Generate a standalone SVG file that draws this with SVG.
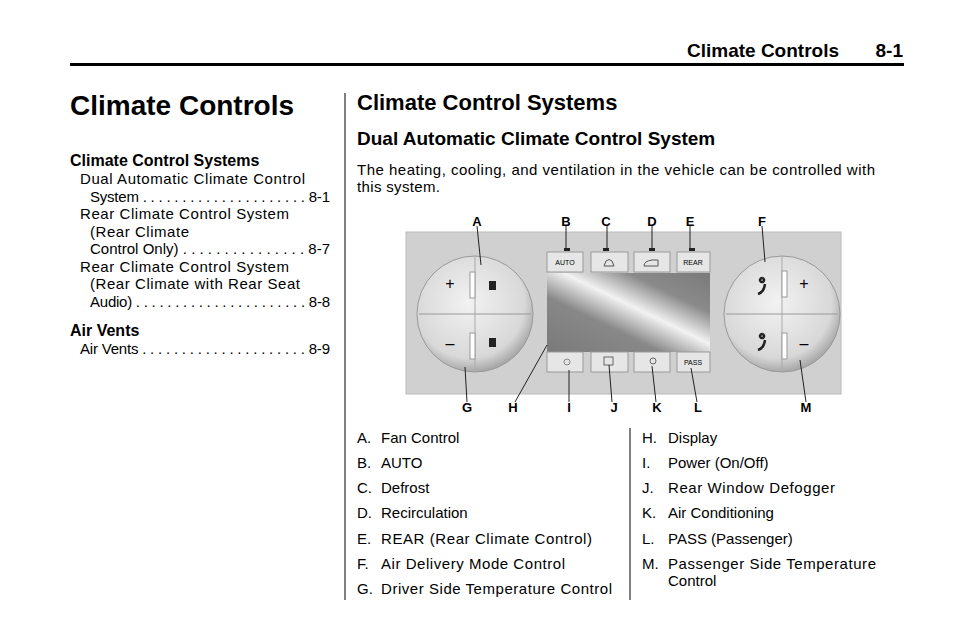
<svg xmlns="http://www.w3.org/2000/svg" width="954" height="638" viewBox="0 0 954 638">
<defs>
<style>
text{font-family:"Liberation Sans",Arial,sans-serif;fill:#000}
.b{font-weight:bold}
.s{font-size:15px}
.lb{font-size:13px;font-weight:bold}
.btn{fill:#e6e6e6;stroke:#999;stroke-width:1}
.bt{font-size:7px;text-anchor:middle}
.ld{stroke:#222;stroke-width:1;fill:none}
</style>
<radialGradient id="kn" cx="0.45" cy="0.4" r="0.6"><stop offset="0" stop-color="#f2f2f2"/><stop offset="0.8" stop-color="#d8d8d8"/><stop offset="1" stop-color="#a8a8a8"/></radialGradient>
<linearGradient id="sc" x1="0" y1="1" x2="1" y2="0"><stop offset="0" stop-color="#7a7a7a"/><stop offset="0.35" stop-color="#888"/><stop offset="0.55" stop-color="#f2f2f2"/><stop offset="0.75" stop-color="#8a8a8a"/><stop offset="1" stop-color="#7a7a7a"/></linearGradient>
</defs>
<rect width="954" height="638" fill="#fff"/>
<text x="839" y="57" class="b" font-size="19" text-anchor="end">Climate Controls</text>
<text x="903" y="57" class="b" font-size="19" text-anchor="end">8-1</text>
<rect x="70" y="63" width="834" height="3" fill="#000"/>
<text x="70" y="115" class="b" font-size="28">Climate Controls</text>
<text x="70" y="166" class="b" font-size="16">Climate Control Systems</text>
<g class="s">
<text x="80" y="184" textLength="225" lengthAdjust="spacing">Dual Automatic Climate Control</text>
<text x="90" y="202" textLength="240" lengthAdjust="spacing">System . . . . . . . . . . . . . . . . . . . . . 8-1</text>
<text x="80" y="219" textLength="209" lengthAdjust="spacing">Rear Climate Control System</text>
<text x="90" y="237" textLength="99" lengthAdjust="spacing">(Rear Climate</text>
<text x="90" y="254" textLength="240" lengthAdjust="spacing">Control Only) . . . . . . . . . . . . . . . 8-7</text>
<text x="80" y="272" textLength="209" lengthAdjust="spacing">Rear Climate Control System</text>
<text x="90" y="289" textLength="210" lengthAdjust="spacing">(Rear Climate with Rear Seat</text>
<text x="90" y="307" textLength="240" lengthAdjust="spacing">Audio) . . . . . . . . . . . . . . . . . . . . . . 8-8</text>
</g>
<text x="70" y="336" class="b" font-size="16">Air Vents</text>
<text x="80" y="354" class="s" textLength="250" lengthAdjust="spacing">Air Vents . . . . . . . . . . . . . . . . . . . . . 8-9</text>
<line x1="345" y1="93" x2="345" y2="600" stroke="#000" stroke-width="1"/>
<text x="357" y="110" class="b" font-size="22">Climate Control Systems</text>
<text x="357" y="145" class="b" font-size="19">Dual Automatic Climate Control System</text>
<text x="357" y="175" class="s" textLength="518" lengthAdjust="spacing">The heating, cooling, and ventilation in the vehicle can be controlled with</text>
<text x="357" y="192" class="s" textLength="83" lengthAdjust="spacing">this system.</text>
<g id="panel">
<rect x="406" y="232" width="435" height="162" fill="#d0d0d0" stroke="#bbb"/>
<circle cx="475" cy="314" r="58" fill="url(#kn)" stroke="#999"/>
<line x1="419" y1="314" x2="531" y2="314" stroke="#999"/>
<line x1="475" y1="256" x2="475" y2="372" stroke="#aaa"/>
<rect x="470" y="272" width="5" height="26" fill="#fff" stroke="#999"/>
<rect x="470" y="333" width="5" height="26" fill="#fff" stroke="#999"/>
<text x="450" y="289" font-size="16" fill="#666" text-anchor="middle">+</text>
<text x="450" y="349" font-size="16" fill="#666" text-anchor="middle">–</text>
<rect x="489" y="281" width="7" height="9" fill="#222"/>
<rect x="489" y="338" width="7" height="9" fill="#222"/>
<circle cx="782" cy="314" r="58" fill="url(#kn)" stroke="#999"/>
<line x1="726" y1="314" x2="838" y2="314" stroke="#999"/>
<line x1="782" y1="256" x2="782" y2="372" stroke="#aaa"/>
<rect x="782" y="271" width="5" height="26" fill="#fff" stroke="#999"/>
<rect x="782" y="333" width="5" height="26" fill="#fff" stroke="#999"/>
<text x="804" y="289" font-size="16" fill="#666" text-anchor="middle">+</text>
<text x="804" y="349" font-size="16" fill="#666" text-anchor="middle">–</text>
<path d="M758 294 q6 -2 7 -10 M762 278 a2 2 0 1 0 0.1 0" stroke="#222" stroke-width="2.5" fill="none"/>
<path d="M758 350 q6 -2 7 -10 M762 334 a2 2 0 1 0 0.1 0" stroke="#222" stroke-width="2.5" fill="none"/>
<rect x="547" y="273" width="163" height="79" fill="url(#sc)"/>
<g id="top-buttons">
<rect x="564" y="248" width="6" height="3" fill="#222"/><rect x="603" y="248" width="6" height="3" fill="#222"/><rect x="649" y="248" width="6" height="3" fill="#222"/><rect x="689" y="248" width="6" height="3" fill="#222"/>
<rect class="btn" x="547" y="252" width="36" height="20"/><text class="bt" x="565" y="265">AUTO</text>
<rect class="btn" x="591" y="252" width="37" height="20"/><path d="M604 266 h10 l-2 -5 q-3 -3 -6 0 z" fill="none" stroke="#555"/>
<rect class="btn" x="634" y="252" width="36" height="20"/><path d="M644 266 q0 -5 8 -6 h6 v6 z" fill="none" stroke="#555"/>
<rect class="btn" x="677" y="252" width="33" height="20"/><text class="bt" x="693" y="265">REAR</text>
</g>
<g id="bottom-buttons">
<rect class="btn" x="547" y="352" width="36" height="20"/><circle cx="567" cy="362" r="3" fill="none" stroke="#888"/>
<rect class="btn" x="591" y="352" width="37" height="20"/><rect x="604" y="357" width="9" height="8" fill="none" stroke="#666"/>
<rect class="btn" x="634" y="352" width="36" height="20"/><circle cx="653" cy="361" r="3" fill="none" stroke="#666"/>
<rect class="btn" x="677" y="352" width="33" height="20"/><text class="bt" x="693" y="365">PASS</text>
</g>
</g>
<g id="connectors" class="ld">
<line x1="477" y1="226" x2="481" y2="265"/>
<line x1="566" y1="226" x2="566" y2="248"/>
<line x1="607" y1="226" x2="607" y2="248"/>
<line x1="652" y1="226" x2="652" y2="248"/>
<line x1="690" y1="226" x2="690" y2="248"/>
<line x1="762" y1="226" x2="765" y2="262"/>
<line x1="467" y1="402" x2="465" y2="367"/>
<line x1="515" y1="402" x2="547" y2="345"/>
<line x1="569" y1="402" x2="569" y2="370"/>
<line x1="612" y1="402" x2="609" y2="365"/>
<line x1="656" y1="402" x2="652" y2="366"/>
<line x1="697" y1="402" x2="691" y2="368"/>
<line x1="806" y1="402" x2="800" y2="360"/>
</g>
<g class="lb" text-anchor="middle">
<text x="477" y="226">A</text><text x="566" y="226">B</text><text x="606" y="226">C</text><text x="652" y="226">D</text><text x="690" y="226">E</text><text x="762" y="226">F</text>
<text x="467" y="412">G</text><text x="513" y="412">H</text><text x="569" y="412">I</text><text x="614" y="412">J</text><text x="657" y="412">K</text><text x="698" y="412">L</text><text x="806" y="412">M</text>
</g>
<line x1="630" y1="428" x2="630" y2="600" stroke="#000"/>
<g class="s">
<text x="357" y="443">A.</text><text x="381" y="443">Fan Control</text>
<text x="357" y="468">B.</text><text x="381" y="468">AUTO</text>
<text x="357" y="493">C.</text><text x="381" y="493">Defrost</text>
<text x="357" y="518">D.</text><text x="381" y="518">Recirculation</text>
<text x="357" y="544">E.</text><text x="381" y="544" textLength="211" lengthAdjust="spacing">REAR (Rear Climate Control)</text>
<text x="357" y="569">F.</text><text x="381" y="569" textLength="184" lengthAdjust="spacing">Air Delivery Mode Control</text>
<text x="357" y="594">G.</text><text x="381" y="594" textLength="231" lengthAdjust="spacing">Driver Side Temperature Control</text>
<text x="642" y="443">H.</text><text x="668" y="443">Display</text>
<text x="642" y="468">I.</text><text x="668" y="468">Power (On/Off)</text>
<text x="642" y="493">J.</text><text x="668" y="493" textLength="167" lengthAdjust="spacing">Rear Window Defogger</text>
<text x="642" y="518">K.</text><text x="668" y="518">Air Conditioning</text>
<text x="642" y="544">L.</text><text x="668" y="544">PASS (Passenger)</text>
<text x="642" y="569">M.</text><text x="668" y="569" textLength="208" lengthAdjust="spacing">Passenger Side Temperature</text>
<text x="668" y="586">Control</text>
</g>
</svg>
